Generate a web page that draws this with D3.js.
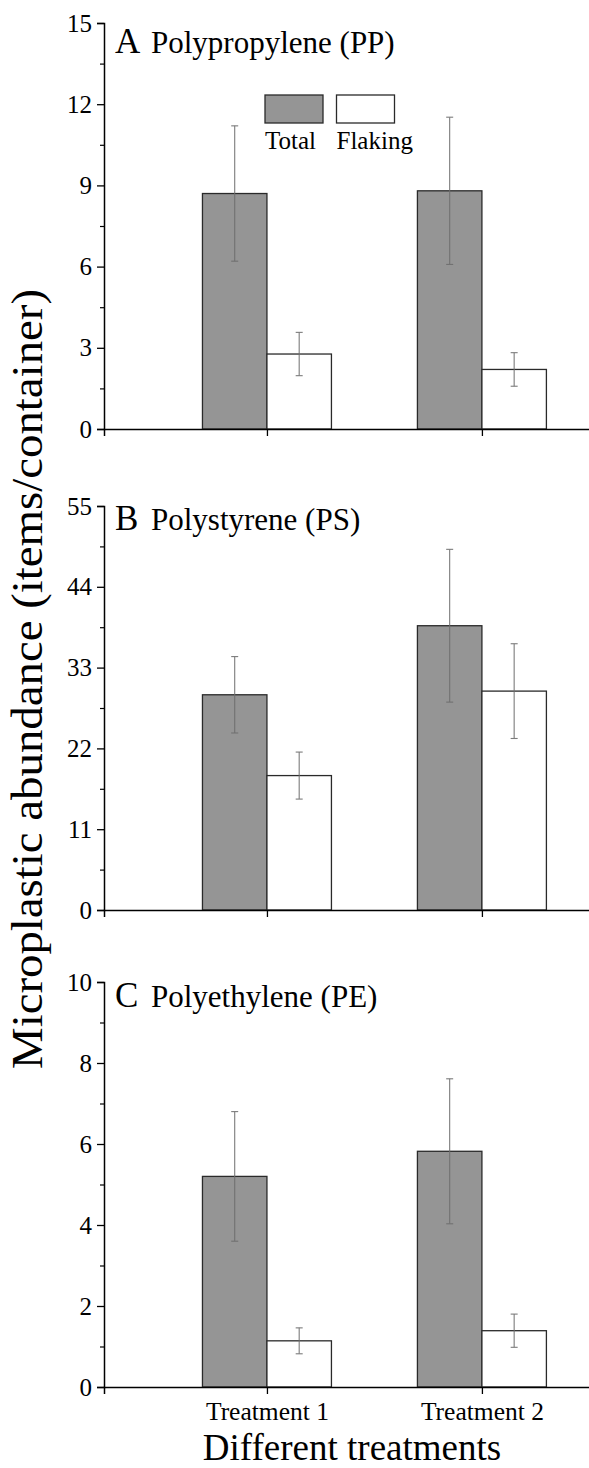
<!DOCTYPE html>
<html><head><meta charset="utf-8">
<script src="https://cdn.jsdelivr.net/npm/d3@7"></script>
<style>
html,body{margin:0;padding:0;background:#fff;}
text{font-family:"Liberation Serif","Times New Roman",serif;fill:#000;}
</style></head>
<body>
<svg id="chart" width="589" height="1468"></svg>
<script>
// ---- data ----
const treatments = ["Treatment 1", "Treatment 2"];
const panelLetters = ["A", "B", "C"];
const panelTitles = ["Polypropylene (PP)", "Polystyrene (PS)", "Polyethylene (PE)"];
const seriesNames = ["Total", "Flaking"];
const totalMean = [[8.7, 8.8], [29.3, 38.7], [5.2, 5.82]];
const totalErr = [[2.5, 2.72], [5.2, 10.4], [1.6, 1.79]];
const flakingMean = [[2.77, 2.2], [18.3, 29.8], [1.14, 1.39]];
const flakingErr = [[0.8, 0.62], [3.2, 6.45], [0.32, 0.41]];
const yMax = [15, 55, 10];
const yStep = [3, 11, 2];
const yTitle = "Microplastic abundance (items/container)";
const xTitle = "Different treatments";

// ---- layout ----
const svg = d3.select("#chart");
const axisX = 104, rightX = 589.4;
const panelRanges = [[429, 23], [910, 506], [1387, 982]];
const titleBase = [53, 530, 1007];
const barW = 0.3;
const colors = {Total: "#959595", Flaking: "#ffffff"};

const x = d3.scaleLinear().domain([0.242, 2.5]).range([axisX, rightX]);

panelLetters.forEach((L, p) => {
  const y = d3.scaleLinear().domain([0, yMax[p]]).range(panelRanges[p]);
  const g = svg.append("g");
  const rows = treatments.map((t, i) => ({t, pos: i + 1,
    Total: totalMean[p][i], TotalE: totalErr[p][i],
    Flaking: flakingMean[p][i], FlakingE: flakingErr[p][i]}));

  // bars
  seriesNames.forEach((s, si) => {
    g.selectAll(null).data(rows).enter().append("rect")
      .attr("x", d => si === 0 ? x(d.pos - barW) : x(d.pos))
      .attr("width", x(barW) - x(0))
      .attr("y", d => y(d[s]))
      .attr("height", d => y(0) - y(d[s]))
      .attr("fill", colors[s]).attr("stroke", "#2a2a2a").attr("stroke-width", 1.3);
  });
  // error bars
  seriesNames.forEach((s, si) => {
    const cx = d => si === 0 ? x(d.pos - barW / 2) : x(d.pos + barW / 2);
    const eg = g.selectAll(null).data(rows).enter().append("g")
      .attr("stroke", "#6e6e6e").attr("stroke-width", 1.1).attr("opacity", 0.9);
    eg.append("line").attr("x1", cx).attr("x2", cx)
      .attr("y1", d => y(d[s] + d[s + "E"])).attr("y2", d => y(d[s] - d[s + "E"]));
    eg.append("line").attr("x1", d => cx(d) - 3.5).attr("x2", d => cx(d) + 3.5)
      .attr("y1", d => y(d[s] + d[s + "E"])).attr("y2", d => y(d[s] + d[s + "E"]));
    eg.append("line").attr("x1", d => cx(d) - 3.5).attr("x2", d => cx(d) + 3.5)
      .attr("y1", d => y(d[s] - d[s + "E"])).attr("y2", d => y(d[s] - d[s + "E"]));
  });

  // y axis major
  const majors = d3.range(0, yMax[p] + 1e-9, yStep[p]);
  const minors = d3.range(yStep[p] / 2, yMax[p], yStep[p]);
  const yAx = g.append("g").attr("transform", `translate(${axisX},0)`)
    .call(d3.axisLeft(y).tickValues(majors).tickSize(7).tickPadding(5).tickFormat(d3.format("d")));
  yAx.select(".domain").attr("stroke", "#000").attr("stroke-width", 1.5);
  yAx.selectAll(".tick line").attr("stroke", "#000").attr("stroke-width", 1.3);
  yAx.selectAll(".tick text").style("font-family", '"Liberation Serif",serif').style("font-size", "25px");
  const yMin = g.append("g").attr("transform", `translate(${axisX},0)`)
    .call(d3.axisLeft(y).tickValues(minors).tickSize(4).tickFormat(""));
  yMin.select(".domain").remove();
  yMin.selectAll(".tick line").attr("stroke", "#000").attr("stroke-width", 1.2);

  // x axis
  const xAx = g.append("g").attr("transform", `translate(0,${y(0)})`)
    .call(d3.axisBottom(x).tickValues([1, 2]).tickSize(7).tickPadding(8)
      .tickFormat(p === 2 ? (d => treatments[d - 1]) : ""));
  xAx.select(".domain").attr("stroke", "#000").attr("stroke-width", 1.5);
  xAx.selectAll(".tick line").attr("stroke", "#000").attr("stroke-width", 1.3);
  xAx.selectAll(".tick text").style("font-family", '"Liberation Serif",serif').style("font-size", "25.5px");

  // panel title
  g.append("text").attr("x", 115).attr("y", titleBase[p]).style("font-size", "35px").text(L);
  g.append("text").attr("x", 151).attr("y", titleBase[p]).style("font-size", "31px").text(panelTitles[p]);

  // legend (panel A)
  if (p === 0) {
    const lx = [265, 336.5];
    seriesNames.forEach((s, i) => {
      g.append("rect").attr("x", lx[i]).attr("y", 95).attr("width", 58).attr("height", 28)
        .attr("fill", colors[s]).attr("stroke", "#2a2a2a").attr("stroke-width", 1.3);
      g.append("text").attr("x", lx[i]).attr("y", 149).style("font-size", "25px").text(s);
    });
  }
});

// axis titles
svg.append("text").attr("transform", "translate(42,679) rotate(-90)")
  .attr("text-anchor", "middle").style("font-size", "44px")
  .attr("textLength", 780).attr("lengthAdjust", "spacingAndGlyphs").text(yTitle);
svg.append("text").attr("x", 352).attr("y", 1460).attr("text-anchor", "middle")
  .style("font-size", "37px").text(xTitle);
</script>
</body></html>
